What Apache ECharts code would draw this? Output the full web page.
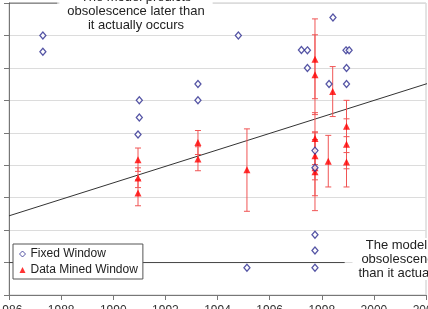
<!DOCTYPE html>
<html>
<head>
<meta charset="utf-8">
<script src="https://cdn.jsdelivr.net/npm/echarts@6/dist/echarts.min.js"></script>
<style>
  html, body { margin: 0; padding: 0; background: #fff; }
  #chart { width: 428px; height: 309px; }
</style>
</head>
<body>
<div id="chart"></div>
<script>
// x axis ticks (years)
const xTicks = [1986, 1988, 1990, 1992, 1994, 1996, 1998, 2000, 2002]

// Fixed Window points
const fwX = [1987.3, 1987.3, 1991.0, 1991.0, 1990.95, 1993.25, 1993.25, 1994.8, 1998.43,
  1997.22, 1997.45, 1997.45, 1998.28, 1998.93, 1999.05, 1998.95, 1998.95,
  1997.74, 1997.74, 1997.74, 1997.74, 1997.74, 1995.13]
const fwY = [8.0, 7.5, 6.0, 5.47, 4.95, 6.5, 6.0, 8.0, 8.55,
  7.55, 7.54, 7.0, 6.5, 7.54, 7.54, 7.0, 6.5,
  4.45, 3.92, 1.86, 1.37, 0.84, 0.84]

// Data Mined Window points with error bars
const dmX = [1990.95, 1990.95, 1990.95, 1993.25, 1993.25, 1995.13,
  1997.74, 1997.74, 1997.74, 1997.74, 1997.74, 1997.74,
  1998.42, 1998.25, 1998.95, 1998.95, 1998.95]
const dmY = [4.17, 3.61, 3.14, 4.70, 4.19, 3.86,
  7.27, 6.79, 4.82, 4.29, 3.92, 3.80,
  6.27, 4.12, 5.20, 4.65, 4.10]
const dmLo = [3.81, 3.31, 2.75, 4.33, 3.83, 2.58,
  6.05, 5.56, 4.02, 3.55, 3.06, 2.60,
  5.50, 3.33, 4.39, 3.89, 3.33]
const dmHi = [4.53, 3.92, 3.55, 5.07, 4.57, 5.12,
  8.51, 8.02, 5.62, 5.03, 4.79, 5.00,
  7.04, 4.92, 6.00, 5.43, 4.88]

// trend line and reference lines
const trendX = [1986, 2002.1]
const trendY = [2.44, 6.53]
const lowLineX = [1986, 1998.88]
const lowLineY = [1, 1]
const topLineX = [1986, 1987.85]
const topLineY = [9, 9]

const font = 'Liberation Sans, Arial, sans-serif'
const pairs = (xs, ys) => xs.map((x, i) => [x, ys[i]])

const chart = echarts.init(document.getElementById('chart'))

const option = {
  animation: false,
  grid: {
    left: 9, right: 2, top: 3, bottom: 14,
    outerBoundsMode: 'none', containLabel: false,
    show: true, borderColor: '#c8c8c8', borderWidth: 1
  },
  legend: {
    left: 13, top: 244, orient: 'vertical',
    padding: [4, 5, 3, 6], itemGap: 4, itemWidth: 6, itemHeight: 6,
    backgroundColor: '#fff', borderColor: '#555', borderWidth: 1,
    textStyle: { fontSize: 12, fontFamily: font, color: '#222' },
    data: [
      { name: 'Fixed Window', icon: 'diamond',
        itemStyle: { color: '#fff', borderColor: '#2b2b8f', borderWidth: 1 } },
      { name: 'Data Mined Window', icon: 'triangle' }
    ]
  },
  xAxis: {
    type: 'value', min: xTicks[0], max: xTicks[xTicks.length - 1], interval: 2,
    axisLine: { lineStyle: { color: '#777' } },
    axisTick: { length: 5, lineStyle: { color: '#777' } },
    axisLabel: { margin: 10, fontSize: 12, fontFamily: font, color: '#333', formatter: v => String(v) },
    splitLine: { show: false }
  },
  yAxis: {
    type: 'value', min: 0, max: 9, interval: 1,
    axisLine: { show: true, lineStyle: { color: '#777' } },
    axisTick: { show: true, length: 5, lineStyle: { color: '#777' } },
    axisLabel: { show: false },
    splitLine: { lineStyle: { color: '#dcdcdc' } }
  },
  graphic: [
    {
      type: 'text', x: 136, y: -10, z: 5,
      style: {
        text: 'The model predicts\nobsolescence later than\nit actually occurs',
        fontSize: 13, fontFamily: font, fill: '#222', lineHeight: 14,
        align: 'center', verticalAlign: 'top',
        backgroundColor: '#fff', padding: [0, 8]
      }
    },
    {
      type: 'text', x: 421, y: 238, z: 5,
      style: {
        text: 'The model predicts\nobsolescence earlier\nthan it actually occurs',
        fontSize: 13, fontFamily: font, fill: '#222', lineHeight: 14,
        align: 'center', verticalAlign: 'top',
        backgroundColor: '#fff', padding: [0, 6]
      }
    }
  ],
  series: [
    {
      type: 'line', data: pairs(trendX, trendY), symbol: 'none', silent: true, clip: false,
      lineStyle: { color: '#333', width: 1 }, z: 2
    },
    {
      type: 'line', data: pairs(lowLineX, lowLineY), symbol: 'none', silent: true,
      lineStyle: { color: '#444', width: 1 }, z: 2
    },
    {
      type: 'line', data: pairs(topLineX, topLineY), symbol: 'none', silent: true,
      lineStyle: { color: '#444', width: 1 }, z: 2
    },
    {
      type: 'custom', silent: true, z: 3,
      data: dmX.map((x, i) => [x, dmLo[i], dmHi[i]]),
      renderItem: (params, api) => {
        const x = api.value(0)
        const top = api.coord([x, api.value(2)])
        const bot = api.coord([x, api.value(1)])
        const w = 3
        const st = { stroke: '#f05555', lineWidth: 1 }
        return {
          type: 'group',
          children: [
            { type: 'line', shape: { x1: top[0], y1: top[1], x2: bot[0], y2: bot[1] }, style: st },
            { type: 'line', shape: { x1: top[0] - w, y1: top[1], x2: top[0] + w, y2: top[1] }, style: st },
            { type: 'line', shape: { x1: bot[0] - w, y1: bot[1], x2: bot[0] + w, y2: bot[1] }, style: st }
          ]
        }
      }
    },
    {
      name: 'Data Mined Window', type: 'scatter', z: 4,
      data: pairs(dmX, dmY), symbol: 'triangle', symbolSize: 7,
      itemStyle: { color: '#ff0000' }
    },
    {
      name: 'Fixed Window', type: 'scatter', z: 4,
      data: pairs(fwX, fwY), symbol: 'diamond', symbolSize: [6, 7],
      itemStyle: { color: '#fff', borderColor: '#2b2b8f', borderWidth: 1.3 }
    }
  ]
}

chart.setOption(option)
</script>
</body>
</html>
